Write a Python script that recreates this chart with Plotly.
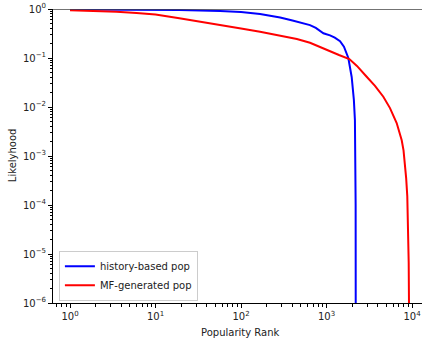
import plotly.graph_objects as go

# history-based pop (rank, likelihood)
hist_rank = [1, 10, 19, 57, 100, 167, 287, 400, 490, 641, 750, 840, 920, 1000, 1100,
             1250, 1440, 1600, 1800, 1970, 2090, 2150, 2180, 2192, 2197, 2200]
hist_val = [0.98, 0.97, 0.955, 0.91, 0.87, 0.79, 0.67, 0.58, 0.53, 0.47, 0.41, 0.35, 0.32,
            0.305, 0.29, 0.26, 0.22, 0.17, 0.10, 0.041, 0.014, 0.0054, 0.001, 1e-4, 1e-6, 1e-8]

# MF-generated pop (rank, likelihood)
mf_rank = [1, 2, 3.5, 6, 10, 19, 35, 57, 100, 167, 290, 450, 641, 1000, 1400, 1850, 2270,
           2950, 3690, 4620, 5530, 6620, 7580, 7960, 8280, 8550, 8810, 9000, 9150, 9280, 9310]
mf_val = [0.94, 0.91, 0.88, 0.83, 0.77, 0.65, 0.55, 0.47, 0.40, 0.344, 0.285, 0.245, 0.205,
          0.145, 0.115, 0.095, 0.069, 0.0415, 0.027, 0.0162, 0.0095, 0.0047, 0.0021, 0.0013,
          0.00072, 0.00035, 0.00015, 4e-5, 6.6e-6, 2e-7, 1e-8]

x_decades = [0, 1, 2, 3, 4]
y_decades = [-6, -5, -4, -3, -2, -1, 0]

def sup(p):
    return "10<sup>" + ("\u2212" if p < 0 else "") + str(abs(p)) + "</sup>"

FONT = "DejaVu Sans"
XR = [-0.199, 4.117]
YR = [-6, 0]

fig = go.Figure()
fig.add_trace(go.Scatter(x=hist_rank, y=hist_val, mode="lines", name="history-based pop",
                         line=dict(color="#0000ff", width=2)))
fig.add_trace(go.Scatter(x=mf_rank, y=mf_val, mode="lines", name="MF-generated pop",
                         line=dict(color="#ff0000", width=2)))
# invisible carrier trace for the minor-tick axes
fig.add_trace(go.Scatter(x=[1], y=[1e-3], xaxis="x2", yaxis="y2", mode="markers",
                         marker=dict(opacity=0), showlegend=False, hoverinfo="skip"))

x_minor = [m * 10 ** k for k in range(-1, 5) for m in range(2, 10)]
y_minor = [m * 10 ** k for k in range(-7, 1) for m in range(2, 10)]

common = dict(ticks="outside", tickwidth=1, tickcolor="black", showgrid=False,
              zeroline=False, automargin=False, ticklabeloverflow="allow")

fig.update_layout(
    xaxis=dict(type="log", range=XR, tickmode="array",
               tickvals=[10 ** p for p in x_decades], ticktext=[sup(p) for p in x_decades],
               ticklen=4, showline=True, linecolor="black", linewidth=1,
               tickfont=dict(family=FONT, size=10, color="#222"), **common),
    yaxis=dict(type="log", range=YR, tickmode="array",
               tickvals=[10 ** p for p in y_decades], ticktext=[sup(p) for p in y_decades],
               ticklen=4, showline=True, linecolor="black", linewidth=1,
               tickfont=dict(family=FONT, size=10, color="#222"), **common),
    xaxis2=dict(type="log", range=XR, overlaying="x", anchor="y", side="bottom",
                tickmode="array", tickvals=x_minor, ticktext=[" " for _ in x_minor],
                ticklen=2.5, showline=False, showticklabels=True, **common),
    yaxis2=dict(type="log", range=YR, overlaying="y", anchor="x", side="left",
                tickmode="array", tickvals=y_minor, ticktext=[" " for _ in y_minor],
                ticklen=2.5, showline=False, showticklabels=True, **common),
)

# horizontal reference line at likelihood = 1
fig.add_shape(type="line", xref="paper", yref="y", x0=0, x1=1, y0=1, y1=1,
              line=dict(color="#444", width=1.5), layer="above")

fig.add_annotation(text="Popularity Rank", xref="paper", yref="paper", x=0.507, y=0,
                   yshift=-29, yanchor="middle", showarrow=False,
                   font=dict(family=FONT, size=10, color="#222"))
fig.add_annotation(text="Likelyhood", xref="paper", yref="paper", x=-0.111, y=0.503,
                   textangle=-90, xanchor="center", yanchor="middle", showarrow=False,
                   font=dict(family=FONT, size=10, color="#222"))

fig.update_layout(width=422, height=343,
                  margin=dict(l=53, r=0, t=9, b=40, autoexpand=False),
                  paper_bgcolor="white", plot_bgcolor="white",
                  font=dict(family=FONT, size=10, color="#222"),
                  hovermode=False,
                  legend=dict(x=0.016, y=0.008, xanchor="left", yanchor="bottom",
                              bgcolor="rgba(255,255,255,0.8)", bordercolor="#cccccc",
                              borderwidth=1, font=dict(family=FONT, size=10),
                              tracegroupgap=0, itemwidth=30))

# remove the page's default body margin so the figure fills the window exactly
fig.write_html("out.html", config={"displayModeBar": False},
               post_script="document.body.style.margin='0px';")
